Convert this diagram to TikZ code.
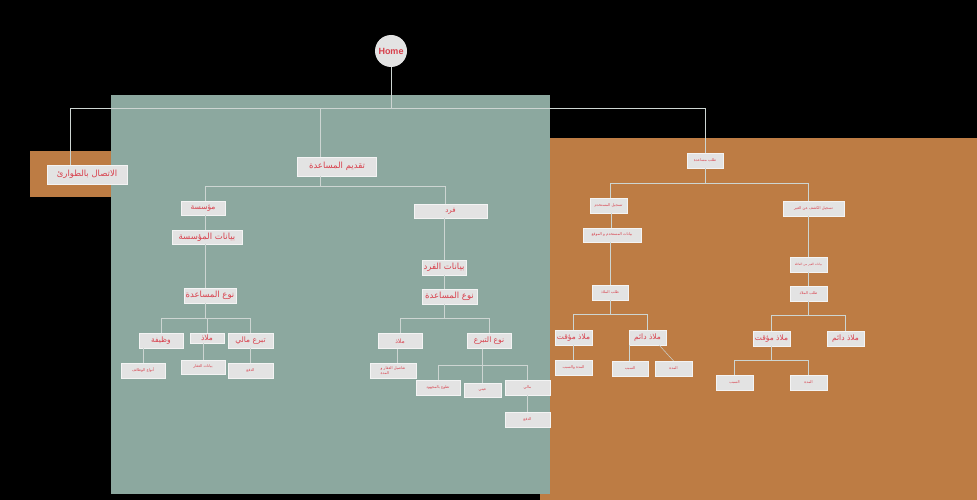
\documentclass[tikz,border=0pt]{standalone}
\usepackage{fontspec}
\usepackage{xcolor}
\usepackage{tikz}
\usetikzlibrary{positioning,calc}
\TeXXeTstate=1
\newfontfamily\arabicfont[Script=Arabic]{DejaVu Sans}
\newfontfamily\homefont{Liberation Sans}
\definecolor{tealbg}{HTML}{8CA89F}
\definecolor{orangebg}{HTML}{BD7C44}
\definecolor{cardgray}{HTML}{E3E3E3}
\definecolor{labelred}{HTML}{D8404C}
\definecolor{linegray}{HTML}{CDD5D2}
\tikzset{
  link/.style={draw=linegray, line width=0.5pt},
  card/.style={fill=cardgray, draw=white!60!cardgray, line width=0.3pt, text=labelred,
    inner sep=0pt, minimum height=15pt},
  bw/.style={minimum width=#1pt},
  lg/.style={card, font=\arabicfont\fontsize{8.5}{10}\selectfont},
  md/.style={card, font=\arabicfont\fontsize{7.5}{9}\selectfont},
  sm/.style={card, font=\arabicfont\fontsize{3.8}{4.5}\selectfont},
}
\begin{document}
\begin{tikzpicture}[x=1pt, y=-1pt]
    % Panels
    \useasboundingbox (0,0) rectangle (977,500);
    \fill[black] (0,0) rectangle (977,500);
    \fill[orangebg] (540,138) rectangle (977,500);
    \fill[orangebg] (30,151) rectangle (111,197);
    \fill[tealbg] (111,95) rectangle (550,494);

    % Home
    \node[circle, fill=cardgray, text=labelred, minimum size=32pt, inner sep=0pt,
      font=\homefont\bfseries\fontsize{9}{11}\selectfont] (home) at (391,51) {Home};
    \coordinate (hub) at (391,108);

    % Top level
    \node[lg, bw=80, minimum height=19pt] (emg) at (87,174.5) {\beginR الاتصال بالطوارئ\endR};
    \node[lg, bw=79, minimum height=19pt] (tq) at (337,166.5) {\beginR تقديم المساعدة\endR};
    \node[sm, bw=36] (req) at (705,160.5) {\beginR طلب مساعدة\endR};

    % Institution
    \node[md, bw=44, minimum height=14pt] (org) at (203,208) {\beginR مؤسسة\endR};
    \node[lg, bw=70, minimum height=14pt] (orgdata) at (207,237) {\beginR بيانات المؤسسة\endR};
    \node[lg, bw=52] (orgtype) at (210,295.5) {\beginR نوع المساعدة\endR};
    \node[md, bw=44] (job) at (161,340.5) {\beginR وظيفة\endR};
    \node[md, bw=34, minimum height=10pt] (shl) at (207,338) {\beginR ملاذ\endR};
    \node[md, bw=45] (don) at (250.5,340.5) {\beginR تبرع مالي\endR};
    \node[sm, bw=44] (jobtypes) at (143,370.5) {\beginR أنواع الوظائف\endR};
    \node[sm, bw=44, minimum height=14pt] (prop) at (203,367) {\beginR بيانات العقار\endR};
    \node[sm, bw=45] (pay) at (250.5,370.5) {\beginR الدفع\endR};

    % Individual
    \node[card, bw=73, minimum height=14pt, font=\arabicfont\fontsize{7}{8}\selectfont] (ind) at (450.5,211) {\beginR فرد\endR};
    \node[lg, bw=44] (inddata) at (444,267.5) {\beginR بيانات الفرد\endR};
    \node[lg, bw=55] (indtype) at (449.5,296.5) {\beginR نوع المساعدة\endR};
    \node[card, bw=44, font=\arabicfont\fontsize{6}{7}\selectfont] (ishl) at (400,341) {\beginR ملاذ\endR};
    \node[md, bw=44] (itype) at (489,341) {\beginR نوع التبرع\endR};
    \node[sm, bw=46, align=left] (idet) at (393,370.5) {\beginR تفاصيل العقار و\endR\\\beginR المدة\endR};
    \node[sm, bw=44] (vol) at (438,387.5) {\beginR تطوع بالمجهود\endR};
    \node[sm, bw=37, minimum height=14pt] (kind) at (482.5,390) {\beginR عيني\endR};
    \node[sm, bw=45] (mon) at (527.5,387.5) {\beginR مالي\endR};
    \node[sm, bw=45] (pay2) at (527.5,419.5) {\beginR الدفع\endR};

    % Request: user
    \node[sm, bw=37] (reg) at (608.5,205.5) {\beginR تسجيل المستخدم\endR};
    \node[sm, bw=58, minimum height=14pt] (regdata) at (612,235) {\beginR بيانات المستخدم و الموقع\endR};
    \node[sm, bw=36] (regshl) at (610,292.5) {\beginR طلب الملاذ\endR};
    \node[md, bw=37] (tmp) at (573.5,337.5) {\beginR ملاذ مؤقت\endR};
    \node[md, bw=37] (perm) at (647.5,337.5) {\beginR ملاذ دائم\endR};
    \node[sm, bw=37] (tmpdur) at (573.5,367.5) {\beginR المدة والسبب\endR};
    \node[sm, bw=36] (sbb) at (630,368.5) {\beginR السبب\endR};
    \node[sm, bw=37] (mdd) at (673.5,368.5) {\beginR المدة\endR};

    % Request: others
    \node[sm, bw=61] (oth) at (813.5,208.5) {\beginR تسجيل الكشف عن الغير\endR};
    \node[card, bw=37, font=\arabicfont\fontsize{3}{3.5}\selectfont] (othdata) at (808.5,264.5) {\beginR بيانات الغير من العائلة\endR};
    \node[sm, bw=37] (othshl) at (808.5,293.5) {\beginR طلب الملاذ\endR};
    \node[md, bw=37] (tmp2) at (771.5,338.5) {\beginR ملاذ مؤقت\endR};
    \node[md, bw=37] (perm2) at (845.5,338.5) {\beginR ملاذ دائم\endR};
    \node[sm, bw=37] (sbb2) at (734.5,382.5) {\beginR السبب\endR};
    \node[sm, bw=37] (mdd2) at (808.5,382.5) {\beginR المدة\endR};

    % Links from home
    \draw[link] (home) -- (hub);
    \draw[link] (hub) -| ([xshift=-17pt]emg.north);
    \draw[link] (hub) -| ([xshift=-17pt]tq.north);
    \draw[link] (hub) -| (req.north);

    % Offer help
    \draw[link] ([xshift=-17pt]tq.south) -- ++(0,10.5) -| ([xshift=2pt]org.north);
    \draw[link] ([xshift=-17pt]tq.south) -- ++(0,10.5) -| ([xshift=-5pt]ind.north);
    \draw[link] ([xshift=2pt]org.south) -- ([xshift=2pt]org.south |- orgdata.north);
    \draw[link] ([xshift=-2pt]orgdata.south) -- ([xshift=-2pt]orgdata.south |- orgtype.north);
    \draw[link] ([xshift=-5pt]orgtype.south) -- ++(0,15) -| (job.north);
    \draw[link] ([xshift=-5pt]orgtype.south) -- ++(0,15) -| (shl.north);
    \draw[link] ([xshift=-5pt]orgtype.south) -- ++(0,15) -| (don.north);
    \draw[link] (jobtypes.north) -- (jobtypes.north |- job.south);
    \draw[link] (prop.north) -- (prop.north |- shl.south);
    \draw[link] (pay.north) -- (pay.north |- don.south);

    \draw[link] (inddata.north) -- (inddata.north |- ind.south);
    \draw[link] (inddata.south) -- (inddata.south |- indtype.north);
    \draw[link] ([xshift=-5.5pt]indtype.south) -- ++(0,14) -| (ishl.north);
    \draw[link] ([xshift=-5.5pt]indtype.south) -- ++(0,14) -| (itype.north);
    \draw[link] ([xshift=4pt]idet.north) -- ([xshift=4pt]idet.north |- ishl.south);
    \draw[link] ([xshift=-7pt]itype.south) -- ++(0,17) -| (vol.north);
    \draw[link] ([xshift=-7pt]itype.south) -- ++(0,17) -| (kind.north);
    \draw[link] ([xshift=-7pt]itype.south) -- ++(0,17) -| (mon.north);
    \draw[link] (pay2.north) -- (pay2.north |- mon.south);

    % Request help
    \draw[link] (req.south) -- ++(0,15) -| ([xshift=2pt]reg.north);
    \draw[link] (req.south) -- ++(0,15) -| ([xshift=-5pt]oth.north);
    \draw[link] ([xshift=-1pt]regdata.north) -- ([xshift=-1pt]regdata.north |- reg.south);
    \draw[link] (regshl.north) -- (regshl.north |- regdata.south);
    \draw[link] (regshl.south) -- ++(0,14) -| (tmp.north);
    \draw[link] (regshl.south) -- ++(0,14) -| (perm.north);
    \draw[link] (tmpdur.north) -- (tmpdur.north |- tmp.south);
    \draw[link] ([xshift=-1pt]sbb.north) -- ([xshift=-1pt]sbb.north |- perm.south);
    \draw[link] ([xshift=-7pt]perm.south east) -- (mdd.north);

    \draw[link] (othdata.north) -- (othdata.north |- oth.south);
    \draw[link] (othshl.north) -- (othshl.north |- othdata.south);
    \draw[link] (othshl.south) -- ++(0,14) -| (tmp2.north);
    \draw[link] (othshl.south) -- ++(0,14) -| (perm2.north);
    \draw[link] (tmp2.south) -- ++(0,14) -| (sbb2.north);
    \draw[link] (tmp2.south) -- ++(0,14) -| (mdd2.north);
\end{tikzpicture}
\end{document}
